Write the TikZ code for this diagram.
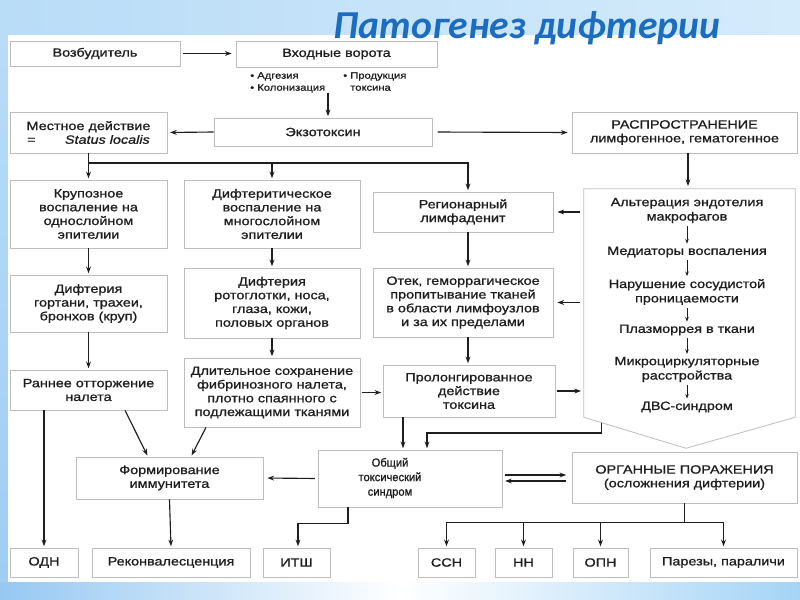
\documentclass[tikz,border=0pt]{standalone}
\usepackage{fontspec}
\setmainfont{Liberation Sans}
\newfontfamily\bxf{Liberation Sans}[FakeStretch=1.2,FakeBold=1]
\newfontfamily\obf{Liberation Sans}[FakeStretch=0.95,FakeBold=1]
\newfontfamily\ttlf{Carlito}
\usetikzlibrary{arrows.meta,calc}
\definecolor{bgtopL}{RGB}{185,220,247}
\definecolor{bgtopR}{RGB}{212,235,251}
\definecolor{bgleft}{RGB}{160,205,243}
\definecolor{bgbotL}{RGB}{150,200,242}
\definecolor{bgbotR}{RGB}{165,212,246}
\definecolor{boxgray}{RGB}{190,190,190}
\definecolor{lin}{RGB}{30,30,30}
\definecolor{txt}{RGB}{30,30,30}
\definecolor{ttl}{RGB}{28,108,192}
\tikzset{
  bx/.style={draw=boxgray, fill=white, line width=0.6pt, inner sep=1pt, align=center, text=txt,
    font=\bxf\fontsize{9}{10.3}\selectfont},
  bw/.style={minimum width=#1*0.75pt},
  bh/.style={minimum height=#1*0.75pt},
  ptx/.style={inner sep=1pt, align=center, text=txt, font=\bxf\fontsize{9}{10.8}\selectfont},
  btx/.style={inner sep=0pt, align=left, text=txt, font=\bxf\fontsize{7}{9}\selectfont},
  otx/.style={inner sep=0pt, align=center, text=txt, font=\obf\fontsize{8.8}{10.9}\selectfont},
  con/.style={draw=lin, line width=0.85pt},
  arr/.style={con, -{Stealth[length=5pt,width=3.6pt]}, shorten >=1pt},
  sarr/.style={draw=lin, line width=0.6pt, -{Stealth[length=3.5pt,width=2.6pt]}, shorten <=1pt, shorten >=1pt},
  pentline/.style={draw=boxgray, fill=white, line width=0.6pt},
  ttlstyle/.style={font=\ttlf\bfseries\itshape\fontsize{29.7}{30}\selectfont, text=ttl, inner sep=0pt}
}
\begin{document}
\begin{tikzpicture}[x=0.75pt,y=-0.75pt]
\useasboundingbox (0,0) rectangle (800,600);
% background
\shade[left color=bgtopL, right color=bgtopR] (0,0) rectangle (800,35);
\shade[top color=bgtopL, bottom color=bgleft] (0,35) rectangle (8,582);
\shade[left color=bgbotL, right color=bgbotR, middle color=white] (0,582) rectangle (800,600);
\fill[white] (8,35) rectangle (800,582);
% title
\node[ttlstyle, anchor=base] (title) at (527,38) {Патогенез дифтерии};

% boxes
\node[bx,bw=170,bh=25] (vozb) at (95,53.5) {Возбудитель};
\node[bx,bw=201,bh=26] (vhod) at (336.5,54) {Входные ворота};
\node[btx, anchor=north west] (bulL) at (250,72) {• Адгезия\\• Колонизация};
\node[btx, anchor=north west] (bulR) at (343,72) {• Продукция\\\hphantom{• }токсина};
\node[bx,bw=218,bh=28] (exo) at (323,132) {Экзотоксин};
\node[bx,bw=157,bh=41] (mest) at (88.5,132.5) {Местное действие\\=\hspace{22pt}\textit{Status localis}};
\node[bx,bw=225,bh=41] (rasp) at (684.5,132.5) {РАСПРОСТРАНЕНИЕ\\лимфогенное, гематогенное};

\node[bx,bw=157,bh=68] (krup) at (88.5,214) {Крупозное\\воспаление на\\однослойном\\эпителии};
\node[bx,bw=176,bh=68] (dift) at (272,214) {Дифтеритическое\\воспаление на\\многослойном\\эпителии};
\node[bx,bw=180,bh=40] (reg) at (463,212) {Регионарный\\лимфаденит};

% pentagon
\node[inner sep=0pt, bw=211, bh=228] (pent) at (689.5,303) {};
\coordinate (ptip) at ($(pent.south)+(-3.5,31)$);
\draw[pentline] (pent.north west) -- (pent.north east) -- (pent.south east) -- (ptip) -- (pent.south west) -- cycle;
\node[ptx] (p1) at (687,210.5) {Альтерация эндотелия\\макрофагов};
\node[ptx] (p2) at (687,252) {Медиаторы воспаления};
\node[ptx] (p3) at (687,292) {Нарушение сосудистой\\проницаемости};
\node[ptx] (p4) at (687,330) {Плазморрея в ткани};
\node[ptx] (p5) at (687,369.5) {Микроциркуляторные\\расстройства};
\node[ptx] (p6) at (687,407) {ДВС-синдром};
\draw[sarr] (p1.south) -- (p2.north);
\draw[sarr] (p2.south) -- (p3.north);
\draw[sarr] (p3.south) -- (p4.north);
\draw[sarr] (p4.south) -- (p5.north);
\draw[sarr] (p5.south) -- (p6.north);

\node[bx,bw=157,bh=57] (gort) at (88.5,303.5) {Дифтерия\\гортани, трахеи,\\бронхов (круп)};
\node[bx,bw=176,bh=70] (roto) at (272,303) {Дифтерия\\ротоглотки, носа,\\глаза, кожи,\\половых органов};
\node[bx,bw=180,bh=69] (otek) at (463,302.5) {Отек, геморрагическое\\пропитывание тканей\\в области лимфоузлов\\и за их пределами};
\node[bx,bw=157,bh=40] (rann) at (88.5,390) {Раннее отторжение\\налета};
\node[bx,bw=176,bh=69] (dlit) at (272,392.5) {Длительное сохранение\\фибринозного налета,\\плотно спаянного с\\подлежащими тканями};
\node[bx,bw=172,bh=52] (prol) at (469,391) {Пролонгированное\\действие\\токсина};
\node[bx,bw=187,bh=42] (form) at (169.5,478) {Формирование\\иммунитета};
\node[bx,bw=184,bh=57] (obsh) at (410,478.5) {};
\node[otx] (obshT) at (390,478) {Общий\\токсический\\синдром};
\node[bx,bw=225,bh=51] (organ) at (684.5,477.5) {ОРГАННЫЕ ПОРАЖЕНИЯ\\(осложнения дифтерии)};

\node[bx,bw=68,bh=29] (odn) at (44,562.5) {ОДН};
\node[bx,bw=158,bh=29] (rekon) at (171,562.5) {Реконвалесценция};
\node[bx,bw=67,bh=29] (itsh) at (296.5,562.5) {ИТШ};
\node[bx,bw=57,bh=29] (ssn) at (446.5,562.5) {ССН};
\node[bx,bw=57,bh=29] (nn) at (523.5,562.5) {НН};
\node[bx,bw=55,bh=29] (opn) at (600.5,562.5) {ОПН};
\node[bx,bw=147,bh=29] (parez) at (723.5,562.5) {Парезы, параличи};

% connectors
\draw[arr, shorten <=2pt, shorten >=3pt] (vozb.east) -- (vozb.east -| vhod.west);
\draw[arr] (bulL.south -| 328,0) -- (exo.north -| 328,0);
\draw[arr, shorten >=2pt] (exo.west) -- (mest.east);
\draw[arr, shorten <=4pt, shorten >=3pt] (exo.east) -- (rasp.west);
\draw[arr, shorten >=2pt] (rasp.south -| 688,0) -- (pent.north -| 688,0);
\draw[arr] (mest.south) -- (krup.north);
\coordinate (j1) at (mest.south |- 0,163);
\draw[arr] (j1) -| (reg.north -| 468,0);
\draw[arr] (dift.north |- j1) -- (dift.north);
\draw[arr] (krup.south) -- (gort.north);
\draw[arr] (dift.south) -- (roto.north);
\draw[arr] (reg.south -| 468,0) -- (otek.north -| 468,0);
\draw[arr, shorten <=3pt, shorten >=3pt] (pent.west |- reg.east) -- (reg.east);
\draw[arr, shorten <=3pt, shorten >=3pt] (pent.west |- otek.east) -- (otek.east);
\draw[arr] (gort.south) -- (rann.north);
\draw[arr] (roto.south) -- (dlit.north);
\draw[arr] (otek.south -| 468,0) -- (prol.north -| 468,0);
\draw[arr, shorten <=1pt] (dlit.east) -- (dlit.east -| prol.west);
\draw[arr, shorten <=1pt, shorten >=2pt] (prol.east) -- (prol.east -| pent.west);
\draw[arr] (rann.south -| odn.north) -- (odn.north);
\draw[arr] (rann.south -| 125,0) -- (form.north -| 148,0);
\draw[arr] (dlit.south -| 206,0) -- (form.north -| 191,0);
\draw[arr] (form.south) -- (rekon.north);
\draw[arr, shorten <=2pt, shorten >=3pt] (obsh.west) -- (form.east);
\draw[arr] (prol.south -| 403,0) -- (obsh.north -| 403,0);
\coordinate (pout) at ($(pent.south west)!0.176!(ptip)$);
\draw[arr] (pout) -- (pout |- 0,433) -| (obsh.north -| 427,0);
\draw[arr, shorten <=2pt, shorten >=4pt] (obsh.east |- 0,475) -- (organ.west |- 0,475);
\draw[arr, shorten <=4pt, shorten >=2pt] (organ.west |- 0,481) -- (obsh.east |- 0,481);
\draw[arr] (obsh.south -| 348,0) -- ++(0,16) -| (itsh.north -| 298,0);
\draw[con] (organ.south) -- ++(0,19) coordinate (j2);
\draw[con] (ssn.north |- j2) -- (parez.north |- j2);
\foreach \n in {ssn,nn,opn,parez} \draw[arr] (\n.north |- j2) -- (\n.north);
\end{tikzpicture}
\end{document}
